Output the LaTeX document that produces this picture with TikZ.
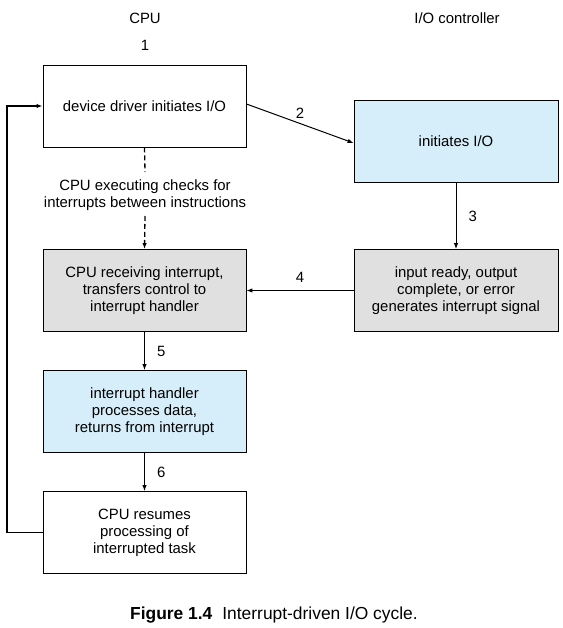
\documentclass[tikz,border=0pt]{standalone}
\usepackage{fontspec}
\setmainfont{Liberation Sans}
\usetikzlibrary{arrows.meta}
\definecolor{boxblue}{HTML}{D6EEF9}
\definecolor{boxgray}{HTML}{E0E0E0}
\begin{document}
\begin{tikzpicture}[x=1pt,y=-1pt,
  box/.style={draw=black,line width=0.9pt,minimum width=203pt,minimum height=82pt,align=center,inner sep=0pt,font=\fontsize{14.9}{17}\selectfont},
  boxr/.style={box,minimum width=204pt},
  lbl/.style={font=\fontsize{14.9}{16.5}\selectfont,inner sep=0pt},
  conn/.style={line width=1pt,-{Latex[length=6pt,width=4.5pt]}},
  dconn/.style={line width=1.3pt,dash pattern=on 5pt off 3pt}]
\useasboundingbox (0,0) rectangle (562,628);
\node[box] (b1) at (144.5,106) {device driver initiates I/O};
\node[boxr,fill=boxblue] (b2) at (456,141.5) {initiates I/O};
\node[box,fill=boxgray] (b3) at (144.5,290.5) {\raisebox{-1.5pt}{\parbox{200pt}{\centering CPU receiving interrupt,\\transfers control to\\interrupt handler}}};
\node[boxr,fill=boxgray] (b4) at (456,290.5) {\raisebox{-1.5pt}{\parbox{200pt}{\centering input ready, output\\complete, or error\\generates interrupt signal}}};
\node[box,fill=boxblue] (b5) at (144.5,411.5) {\raisebox{-1.5pt}{\parbox{200pt}{\centering interrupt handler\\processes data,\\returns from interrupt}}};
\node[box] (b6) at (144.5,532.5) {\raisebox{-1.5pt}{\parbox{200pt}{\centering CPU resumes\\processing of\\interrupted task}}};
\node[lbl] (cpu) at (145,18) {CPU};
\node[lbl] (one) at (145,45) {1};
\node[lbl] (ioc) at (457,18) {I/O controller};
\node[lbl,align=center] (chk) at (145,195) {CPU executing checks for\\interrupts between instructions};
\coordinate (d1) at (145,172);
\coordinate (d2) at (145,216);
\draw[dconn] (b1.south) -- (d1);
\draw[dconn,-{Latex[length=6pt,width=4.5pt]}] (d2) -- (b3.north);
\coordinate (a2s) at (b1.east |- 0,104);
\coordinate (a2e) at (b2.west |- 0,143);
\draw[conn] (a2s) -- (a2e) node[lbl,pos=0.5,above=4pt] (n2) {2};
\draw[conn] (b2.south) -- (b4.north) node[lbl,midway,right=12pt] (n3) {3};
\draw[conn] (b4.west) -- (b3.east) node[lbl,midway,above=8pt] (n4) {4};
\draw[conn] (b3.south) -- (b5.north) node[lbl,midway,right=12pt] (n5) {5};
\draw[conn] (b5.south) -- (b6.north) node[lbl,midway,right=12pt] (n6) {6};
\coordinate (l1) at (7,532.5);
\coordinate (l2) at (7,106);
\draw[conn,line width=1.3pt] (b6.west) -- (l1) -- (l2) -- (b1.west);
\node[inner sep=0pt,anchor=base west,font=\fontsize{17.4}{20}\selectfont] (cap) at (130,619) {\textbf{Figure 1.4}\hspace{10pt}Interrupt-driven I/O cycle.};
\end{tikzpicture}
\end{document}
